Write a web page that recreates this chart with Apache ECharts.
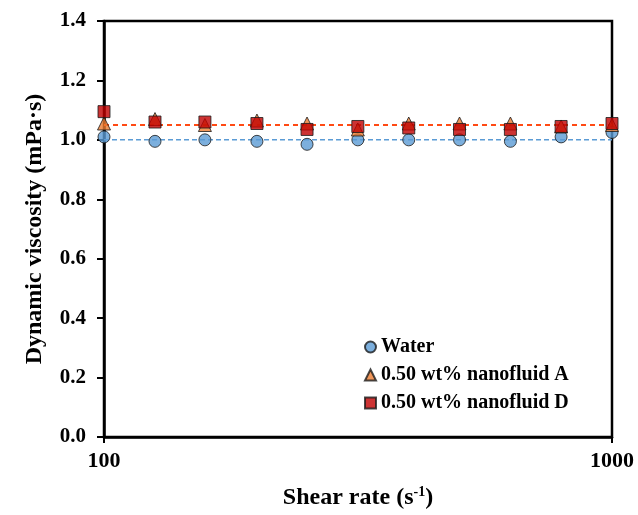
<!DOCTYPE html>
<html lang="en">
<head>
    <meta charset="utf-8">
    <title>Dynamic viscosity</title>
    <script src="https://cdn.jsdelivr.net/npm/echarts@6/dist/echarts.min.js"></script>
    <style>
        html, body { margin: 0; padding: 0; background: #fff; }
        #main { width: 638px; height: 515px; }
    </style>
</head>
<body>
<div id="main"></div>
<script type="text/javascript">
    // shear rate steps (s^-1), log sweep
    var shearRate = [100, 126, 158, 200, 251, 316, 398, 501, 631, 794, 1000];

    var water = [1.01, 0.995, 1.00, 0.995, 0.985, 1.00, 1.00, 1.00, 0.995, 1.01, 1.025];
    var nanoA = [1.055, 1.07, 1.05, 1.065, 1.055, 1.035, 1.055, 1.055, 1.055, 1.045, 1.05];
    var nanoD = [1.095, 1.06, 1.06, 1.055, 1.035, 1.045, 1.04, 1.035, 1.035, 1.045, 1.055];

    // dashed reference levels
    var fitX = [100, 1000];
    var waterLevel = [1.0, 1.0];
    var nanoLevel = [1.05, 1.05];

    var seriesNames = ['Water', '0.50 wt% nanofluid A', '0.50 wt% nanofluid D'];

    var font = 'Liberation Serif';

    function pairs(xs, ys) {
        return xs.map(function (x, i) { return [x, ys[i]]; });
    }

    var myChart = echarts.init(document.getElementById('main'));

    var option = {
        backgroundColor: '#fff',
        animation: false,
        grid: {
            left: 104,
            right: 26,
            top: 21,
            bottom: 78,
            show: true,
            borderColor: '#000',
            borderWidth: 2.5
        },
        legend: {
            data: seriesNames,
            orient: 'vertical',
            left: 359,
            top: 332,
            itemWidth: 11,
            itemHeight: 11,
            itemGap: 8,
            textStyle: {
                fontFamily: font,
                fontWeight: 'bold',
                fontSize: 20,
                color: '#000'
            }
        },
        xAxis: {
            type: 'log',
            logBase: 10,
            min: 100,
            max: 1000,
            name: 'Shear rate (s{sup|-1})',
            nameLocation: 'middle',
            nameGap: 48,
            nameTextStyle: {
                fontFamily: font,
                fontWeight: 'bold',
                fontSize: 24,
                color: '#000',
                rich: {
                    sup: {
                        fontFamily: font,
                        fontWeight: 'bold',
                        fontSize: 14,
                        color: '#000',
                        verticalAlign: 'top',
                        padding: [0, 0, 12, 0]
                    }
                }
            },
            axisLine: { lineStyle: { color: '#000', width: 2.5 } },
            axisTick: { show: true, length: 6, lineStyle: { color: '#000', width: 2 } },
            minorTick: { show: false },
            splitLine: { show: false },
            axisLabel: {
                margin: 13,
                fontFamily: font,
                fontWeight: 'bold',
                fontSize: 22,
                color: '#000',
                formatter: function (v) { return String(Math.round(v)); }
            }
        },
        yAxis: {
            type: 'value',
            min: 0,
            max: 1.4,
            interval: 0.2,
            name: 'Dynamic viscosity (mPa·s)',
            nameLocation: 'middle',
            nameGap: 57,
            nameTextStyle: {
                fontFamily: font,
                fontWeight: 'bold',
                fontSize: 24,
                color: '#000'
            },
            axisLine: { lineStyle: { color: '#000', width: 2.5 } },
            axisTick: { show: true, length: 7, lineStyle: { color: '#000', width: 2 } },
            splitLine: { show: false },
            axisLabel: {
                margin: 18,
                fontFamily: font,
                fontWeight: 'bold',
                fontSize: 21,
                color: '#000',
                formatter: function (v) { return v.toFixed(1); }
            }
        },
        series: [
            {
                type: 'line',
                data: pairs(fitX, waterLevel),
                showSymbol: false,
                symbol: 'none',
                silent: true,
                z: 1,
                lineStyle: { color: '#5B9BD5', width: 1.5, type: [5, 3] }
            },
            {
                type: 'line',
                data: pairs(fitX, nanoLevel),
                showSymbol: false,
                symbol: 'none',
                silent: true,
                z: 1,
                lineStyle: { color: '#FF4A14', width: 2, type: [5, 4] }
            },
            {
                name: seriesNames[0],
                type: 'scatter',
                data: pairs(shearRate, water),
                symbol: 'circle',
                symbolSize: 12,
                z: 3,
                itemStyle: { color: '#5B9BD5', borderColor: '#1a1a1a', borderWidth: 1 }
            },
            {
                name: seriesNames[1],
                type: 'scatter',
                data: pairs(shearRate, nanoA),
                symbol: 'triangle',
                symbolSize: 13,
                z: 4,
                itemStyle: { color: '#ED7D31', borderColor: '#1a1a1a', borderWidth: 1 }
            },
            {
                name: seriesNames[2],
                type: 'scatter',
                data: pairs(shearRate, nanoD),
                symbol: 'rect',
                symbolSize: 12,
                z: 5,
                itemStyle: { color: '#C00000', borderColor: '#1a1a1a', borderWidth: 1 }
            }
        ]
    };

    myChart.setOption(option);
</script>
</body>
</html>
